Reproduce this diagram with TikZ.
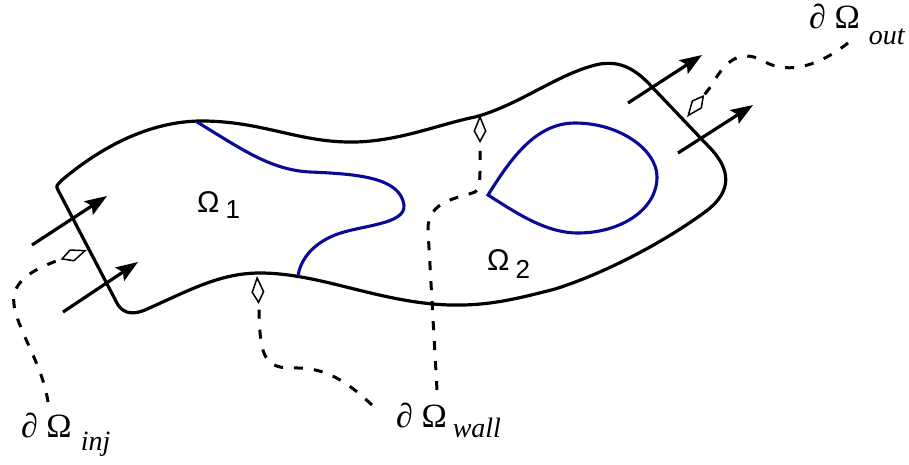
\documentclass[tikz,border=0pt]{standalone}
\usepackage{fontspec}
\setmainfont{Liberation Serif}
\newfontfamily\arialf{Liberation Sans}
\usetikzlibrary{arrows.meta}
\definecolor{regionblue}{RGB}{10,10,150}
\tikzset{
 boundary/.style={line width=3.2pt, line join=round},
 subline/.style={draw=regionblue, line width=3.1pt},
 flow/.style={line width=3.2pt, -{Stealth[length=22pt,width=16pt,inset=4pt]}},
 pointer/.style={line width=3pt, dash pattern=on 9pt off 11pt, -{Kite[open,length=28pt,width=13pt,inset=12pt,line width=1.5pt]}},
 lab/.style={inner sep=0pt, anchor=base west},
}
\newcommand\bdlabel[3]{\fontsize{34}{40}\selectfont ∂\ Ω\kern#3pt\raisebox{-#2pt}{\fontsize{28}{30}\selectfont\itshape #1}}
\newcommand\sublabel[2]{{\arialf\fontsize{30}{36}\selectfont Ω\kern6pt\raisebox{-#2pt}{\fontsize{26}{30}\selectfont #1}}}
\begin{document}
\begin{tikzpicture}[x=1pt,y=-1pt]
\useasboundingbox (0,0) rectangle (909,464);
% outer domain boundary
\draw[boundary] (58,190)
  .. controls (56,186) .. (62,180)
  .. controls (100,148) and (150,120) .. (205,121)
  .. controls (265,122) and (300,143) .. (355,142)
  .. controls (400,141) and (440,124) .. (475,117)
  .. controls (520,105) and (560,72) .. (600,64)
  .. controls (620,61) and (635,68) .. (653,88)
  -- (712,150)
  .. controls (728,168) and (735,190) .. (705,212)
  .. controls (660,245) and (600,275) .. (555,289)
  .. controls (520,298) and (490,306) .. (450,305)
  .. controls (380,303) and (320,273) .. (260,273)
  .. controls (220,273) and (190,290) .. (145,310)
  .. controls (135,314) and (125,315) .. (118,305)
  -- cycle;
% sub-region boundaries
\draw[subline] (197,122) .. controls (240,148) and (270,170) .. (310,172)
  .. controls (360,174) and (400,178) .. (404,205)
  .. controls (406,225) and (360,225) .. (335,235)
  .. controls (310,245) and (300,262) .. (298,276);
\draw[subline] (488,195) .. controls (510,160) and (535,123) .. (575,123)
  .. controls (620,123) and (657,150) .. (657,177)
  .. controls (657,210) and (620,233) .. (578,233)
  .. controls (545,233) and (515,212) .. cycle;
% flow arrows
\draw[flow] (32,245) -- (107,196);
\draw[flow] (63,312) -- (138,262);
\draw[flow] (628,103) -- (702,55);
\draw[flow] (678,153) -- (753,105);
% labels
\node[lab] (inj) at (21,437) {\bdlabel{inj}{13}{9}};
\node[lab] (wall) at (396,427) {\bdlabel{wall}{10}{6}};
\node[lab] (out) at (809,28) {\bdlabel{out}{16}{9}};
\node[lab] (om1) at (197,212) {\sublabel{1}{6}};
\node[lab] (om2) at (487,270) {\sublabel{2}{8}};
% pointer ends
\coordinate (injtail) at (48,402);
\coordinate (injtip) at (87,250);
\coordinate (walltailA) at (372,405);
\coordinate (walltipA) at (257,276);
\coordinate (walltailB) at (437,390);
\coordinate (walltipB) at (480,115);
\coordinate (outtail) at (848,43);
\coordinate (outtip) at (687,117);
% dashed pointers
\draw[pointer] (injtail) .. controls (42,360) and (10,320) .. (14,295)
  .. controls (18,275) and (45,265) .. (injtip);
\draw[pointer] (walltailA) .. controls (340,375) and (320,367) .. (290,368)
  .. controls (262,368) and (260,350) .. (259,310) -- (walltipA);
\draw[pointer] (walltailB) -- (428,230) .. controls (427,200) and (460,198) .. (475,192)
  .. controls (481,188) and (480,175) .. (480,145) -- (walltipB);
\draw[pointer] (outtail) .. controls (820,65) and (790,75) .. (765,62)
  .. controls (745,50) and (728,55) .. (712,85) -- (outtip);
\end{tikzpicture}
\end{document}
